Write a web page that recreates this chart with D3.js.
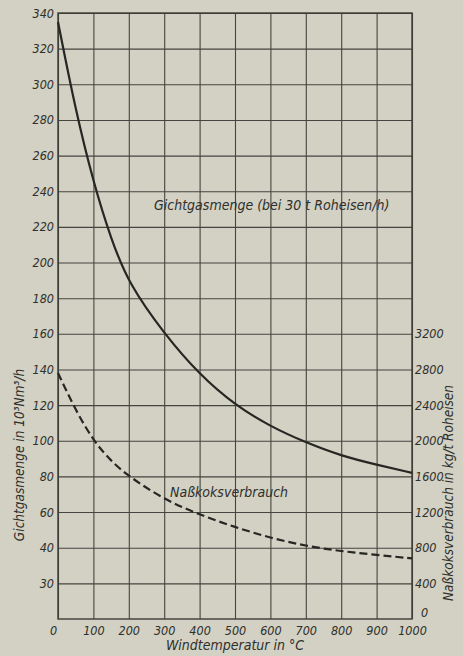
<!DOCTYPE html>
<html>
<head>
<meta charset="utf-8">
<script src="https://cdn.jsdelivr.net/npm/d3@7"></script>
<style>
  body { margin: 0; background: #d2d1c3; }
  svg text { font-family: "DejaVu Sans Condensed", "DejaVu Sans", sans-serif; font-style: italic; fill: #2f2f2b; }
  .grid line, .grid path { stroke: #45453f; stroke-width: 1.1; }
</style>
</head>
<body>
<div id="chart"></div>
<script>
const width = 463,
  height = 656,
  margin = { top: 13, bottom: 37, left: 58, right: 51 };

// Windtemperatur in °C
const temps = [0, 50, 100, 150, 200, 300, 400, 500, 600, 700, 800, 900, 1000];
// Gichtgasmenge in 10^3 Nm^3/h
const gasAmount = [335, 285, 245, 213, 188, 160, 137, 120, 108, 99, 91.5, 86.5, 82];
// Naßkoksverbrauch in kg/t Roheisen
const cokeUse = [2760, 2340, 2000, 1770, 1600, 1340, 1170, 1030, 910, 820, 760, 720, 680];

const leftTicks = [20, 40, 60, 80, 100, 120, 140, 160, 180, 200, 220, 240, 260, 280, 300, 320, 340];
const leftTickLabels = ["30", "40", "60", "80", "100", "120", "140", "160", "180", "200", "220", "240", "260", "280", "300", "320", "340"];
const rightTicks = [0, 400, 800, 1200, 1600, 2000, 2400, 2800, 3200];
const xTicks = [0, 100, 200, 300, 400, 500, 600, 700, 800, 900, 1000];

const svg = d3.select("#chart")
  .append("svg")
  .attr("width", width)
  .attr("height", height);

const xScale = d3.scaleLinear()
  .domain([0, 1000])
  .range([margin.left, width - margin.right]);

const yScale = d3.scaleLinear()
  .domain([0, 340])
  .range([height - margin.bottom, margin.top]);

// right axis is 20x the left one
const yRight = d3.scaleLinear()
  .domain([0, 6800])
  .range([height - margin.bottom, margin.top]);

const innerW = width - margin.left - margin.right,
  innerH = height - margin.top - margin.bottom;

// grid + left axis
const yAxis = svg.append("g")
  .attr("class", "grid")
  .attr("transform", `translate(${margin.left},0)`)
  .call(d3.axisLeft(yScale)
    .tickValues(leftTicks)
    .tickSize(-innerW)
    .tickPadding(4)
    .tickFormat((d, i) => leftTickLabels[i]));
yAxis.select(".domain").remove();
yAxis.selectAll("text").style("font-size", "12.5px").attr("fill", "#2f2f2b");

const xAxis = svg.append("g")
  .attr("class", "grid")
  .attr("transform", `translate(0,${height - margin.bottom})`)
  .call(d3.axisBottom(xScale)
    .tickValues(xTicks)
    .tickSize(-innerH)
    .tickPadding(7)
    .tickFormat(d => d));
xAxis.select(".domain").remove();
xAxis.selectAll("text").style("font-size", "12.5px").attr("fill", "#2f2f2b");
xAxis.selectAll(".tick").filter(d => d === 0).select("text").attr("dx", -5);

// frame
svg.append("rect")
  .attr("x", margin.left)
  .attr("y", margin.top)
  .attr("width", innerW)
  .attr("height", innerH)
  .attr("fill", "none")
  .attr("stroke", "#3c3c37")
  .attr("stroke-width", 1.4);

// right axis
const rAxis = svg.append("g")
  .attr("transform", `translate(${width - margin.right},0)`)
  .call(d3.axisRight(yRight)
    .tickValues(rightTicks)
    .tickSize(0)
    .tickPadding(3)
    .tickFormat(d => d));
rAxis.select(".domain").remove();
rAxis.selectAll("text").style("font-size", "12.5px").attr("fill", "#2f2f2b");
rAxis.selectAll(".tick").filter(d => d === 0).select("text").attr("dy", "-0.2em").attr("dx", 6);

// curves (smoothed like a hand-drawn curve)
const gasLine = d3.line()
  .x((d, i) => xScale(temps[i]))
  .y(d => yScale(d))
  .curve(d3.curveBasis);

const cokeLine = d3.line()
  .x((d, i) => xScale(temps[i]))
  .y(d => yRight(d))
  .curve(d3.curveBasis);

svg.append("path")
  .datum(gasAmount)
  .attr("d", gasLine)
  .attr("fill", "none")
  .attr("stroke", "#262623")
  .attr("stroke-width", 2.2);

svg.append("path")
  .datum(cokeUse)
  .attr("d", cokeLine)
  .attr("fill", "none")
  .attr("stroke", "#262623")
  .attr("stroke-width", 2.2)
  .attr("stroke-dasharray", "8,4");

// labels inside plot
svg.append("text")
  .attr("x", 154)
  .attr("y", 210)
  .style("font-size", "14px")
  .text("Gichtgasmenge (bei 30 t Roheisen/h)");

svg.append("text")
  .attr("x", 170)
  .attr("y", 497)
  .style("font-size", "14px")
  .text("Naßkoksverbrauch");

// axis titles
svg.append("text")
  .attr("x", (margin.left + width - margin.right) / 2)
  .attr("y", 650)
  .attr("text-anchor", "middle")
  .style("font-size", "14px")
  .text("Windtemperatur in °C");

svg.append("text")
  .attr("transform", "translate(24,455) rotate(-90)")
  .attr("text-anchor", "middle")
  .style("font-size", "13.5px")
  .text("Gichtgasmenge in 10³Nm³/h");

svg.append("text")
  .attr("transform", "translate(453,493) rotate(-90)")
  .attr("text-anchor", "middle")
  .style("font-size", "13.5px")
  .text("Naßkoksverbrauch in kg/t Roheisen");
</script>
</body>
</html>
